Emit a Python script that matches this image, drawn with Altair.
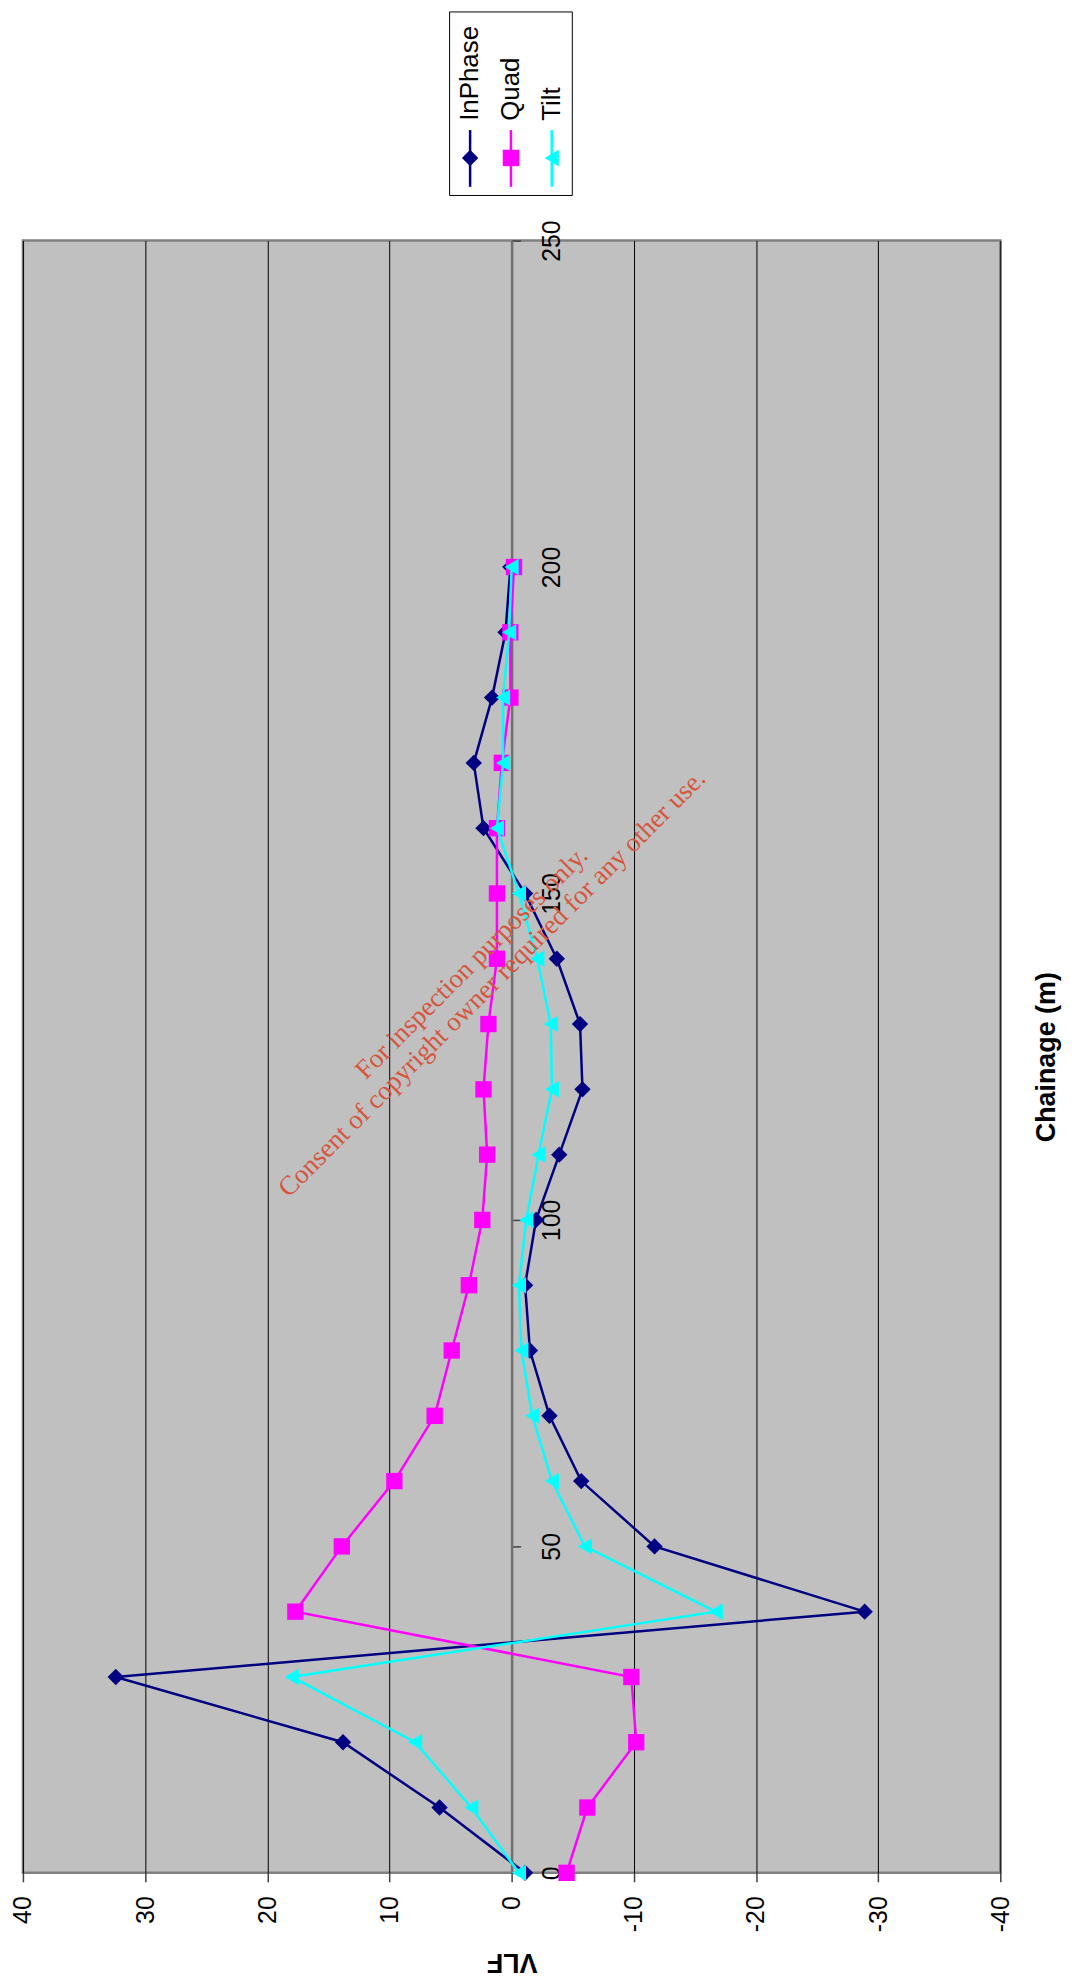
import altair as alt
import pandas as pd

# ---------------- data ----------------
chainage = [0, 10, 20, 30, 40, 50, 60, 70, 80, 90, 100,
            110, 120, 130, 140, 150, 160, 170, 180, 190, 200]
inphase = [-1.1, 5.9, 13.8, 32.4, -28.9, -11.7, -5.7, -3.1, -1.5, -1.1, -2.0,
           -3.9, -5.8, -5.6, -3.7, -1.1, 2.3, 3.1, 1.6, 0.5, 0.1]
quad = [-4.5, -6.2, -10.2, -9.8, 17.7, 13.9, 9.6, 6.3, 4.9, 3.5, 2.4,
        2.0, 2.3, 1.9, 1.2, 1.2, 1.2, 0.8, 0.1, 0.1, -0.2]
tilt = [-0.6, 3.3, 7.9, 18.0, -16.7, -6.0, -3.3, -1.7, -0.8, -0.6, -1.2,
        -2.2, -3.3, -3.2, -2.1, -0.6, 1.2, 0.7, 0.7, 0.2, 0.0]

series_names = ["InPhase", "Quad", "Tilt"]
series_colors = ["#000080", "#FF00FF", "#00FFFF"]
series_shapes = ["diamond", "square", "triangle-left"]

vlf_ticks = [-40, -30, -20, -10, 0, 10, 20, 30, 40]
chainage_ticks = [0, 50, 100, 150, 200, 250]

watermark = ["For inspection purposes only.",
             "Consent of copyright owner required for any other use."]

# ---------------- layout ----------------
W, H = 982, 1640
FONT = "Liberation Sans"

rows = []
for name, vals in zip(series_names, [inphase, quad, tilt]):
    for c, v in zip(chainage, vals):
        rows.append({"series": name, "chainage": c, "vlf": v})
df = pd.DataFrame(rows)
one = pd.DataFrame({"k": [0]})

x_enc = alt.X(
    "vlf:Q",
    scale=alt.Scale(domain=[-40, 40], reverse=True, nice=False, zero=False),
    axis=alt.Axis(
        orient="bottom", values=vlf_ticks, grid=True, gridColor="#000000",
        gridWidth=1, domain=False, ticks=True, tickSize=9, tickColor="#404040",
        tickWidth=1.5, labelAngle=270, labelAlign="right", labelBaseline="middle",
        labelPadding=14, labelFont=FONT, labelFontSize=25, labelColor="#000000",
        labelExpr="'' + datum.value", labelFlush=False, labelOverlap=False,
        title="VLF", titleAngle=180, titleFont=FONT, titleFontSize=27,
        titleFontWeight="bold", titleColor="#000000", titleX=W / 2, titleY=89,
        titleAlign="center", titleBaseline="middle",
    ),
)
y_enc = alt.Y(
    "chainage:Q",
    scale=alt.Scale(domain=[0, 250], nice=False, zero=False),
    axis=alt.Axis(
        orient="right", offset=-W / 2, values=chainage_ticks, grid=False,
        domain=True, domainColor="#707070", domainWidth=2.5, ticks=True,
        tickSize=9, tickColor="#404040", tickWidth=1.5, labelAngle=270,
        labelAlign="center", labelBaseline="top", labelPadding=19,
        labelFont=FONT, labelFontSize=25, labelColor="#000000",
        labelFlush=False, labelOverlap=False,
        title="Chainage (m)", titleAngle=270, titleFont=FONT, titleFontSize=27,
        titleFontWeight="bold", titleColor="#000000", titleX=537, titleY=H / 2,
        titleAlign="center", titleBaseline="middle",
    ),
)

layers = []
for name, color, shape in zip(series_names, series_colors, series_shapes):
    d = df[df["series"] == name]
    layers.append(
        alt.Chart(d).mark_line(color=color, strokeWidth=2.5).encode(
            x=x_enc, y=y_enc, order=alt.Order("chainage:Q"))
    )
    layers.append(
        alt.Chart(d).mark_point(filled=True, opacity=1, size=270, shape=shape,
                                color=color).encode(x=x_enc, y=y_enc)
    )

# watermark
layers.append(
    alt.Chart(one).mark_text(
        angle=315, font="Liberation Serif", fontSize=27, color="#D5553D",
        lineHeight=29, align="center", baseline="middle",
    ).encode(x=alt.value(451), y=alt.value(726), text=alt.value(watermark))
)

# legend (rotated like the rest of the picture)
layers.append(
    alt.Chart(one).mark_rect(fill="white", stroke="black", strokeWidth=1).encode(
        x=alt.value(428.7), x2=alt.value(552), y=alt.value(-229.7), y2=alt.value(-45.3))
)
for i, (name, color, shape) in enumerate(zip(series_names, series_colors, series_shapes)):
    xi = 449.3 + 41 * i
    layers.append(
        alt.Chart(one).mark_rule(color=color, strokeWidth=2.5).encode(
            x=alt.value(xi), y=alt.value(-111), y2=alt.value(-54))
    )
    layers.append(
        alt.Chart(one).mark_point(filled=True, opacity=1, size=270, shape=shape,
                                  color=color).encode(x=alt.value(xi), y=alt.value(-83))
    )
    layers.append(
        alt.Chart(one).mark_text(angle=270, align="left", baseline="middle",
                                 font=FONT, fontSize=26, color="#000000").encode(
            x=alt.value(xi), y=alt.value(-120.3), text=alt.value(name))
    )

chart = (
    alt.layer(*layers)
    .properties(
        width=W, height=H,
        autosize=alt.AutoSizeParams(type="none"),
        padding={"left": 15, "top": 229, "right": 64, "bottom": 101},
    )
    .configure(font=FONT)
    .configure_view(fill="#C0C0C0", stroke="#808080", strokeWidth=2.5)
)

chart.save("out.html", embed_options={"renderer": "svg", "actions": False})
